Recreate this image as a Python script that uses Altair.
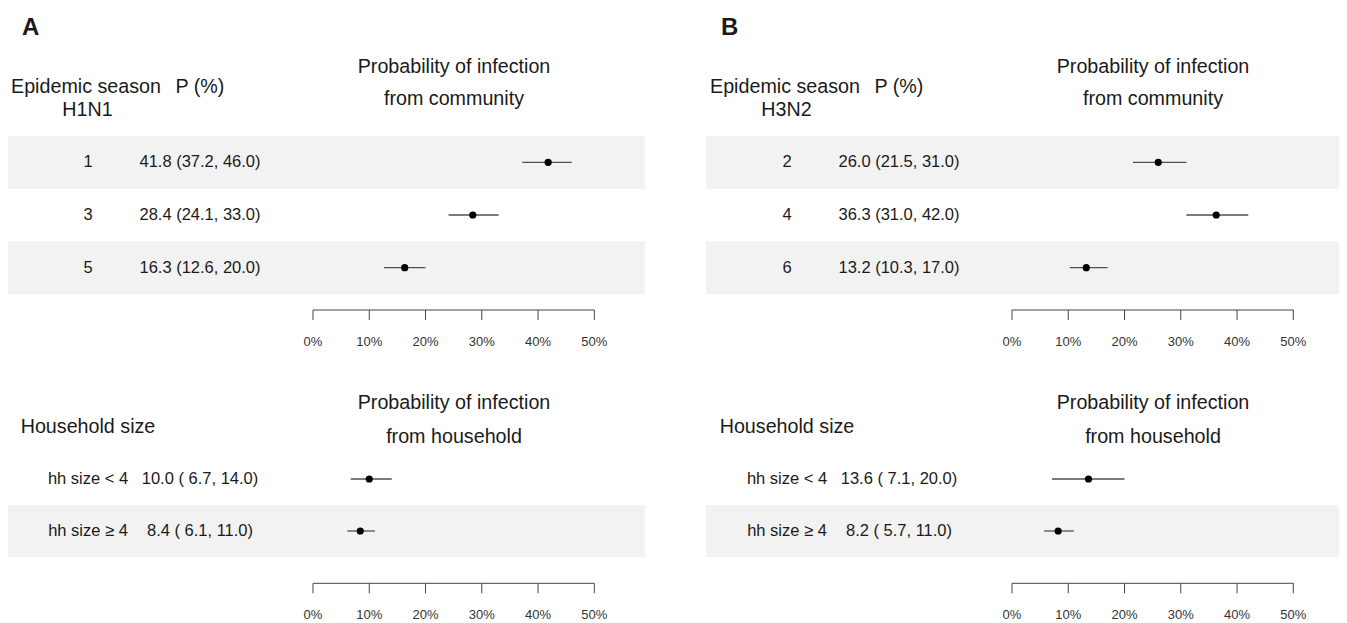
import altair as alt
import pandas as pd

FONT = "Liberation Sans"
TXT = "#1a1a1a"

# ---------------- data ----------------
a_seasons = ["1", "3", "5"]
a_comm_est = [41.8, 28.4, 16.3]
a_comm_lo = [37.2, 24.1, 12.6]
a_comm_hi = [46.0, 33.0, 20.0]
a_comm_txt = ["41.8 (37.2, 46.0)", "28.4 (24.1, 33.0)", "16.3 (12.6, 20.0)"]

b_seasons = ["2", "4", "6"]
b_comm_est = [26.0, 36.3, 13.2]
b_comm_lo = [21.5, 31.0, 10.3]
b_comm_hi = [31.0, 42.0, 17.0]
b_comm_txt = ["26.0 (21.5, 31.0)", "36.3 (31.0, 42.0)", "13.2 (10.3, 17.0)"]

hh_groups = ["hh size < 4", "hh size \u2265 4"]
a_hh_est = [10.0, 8.4]
a_hh_lo = [6.7, 6.1]
a_hh_hi = [14.0, 11.0]
a_hh_txt = ["10.0 ( 6.7, 14.0)", "8.4 ( 6.1, 11.0)"]

b_hh_est = [13.6, 8.2]
b_hh_lo = [7.1, 5.7]
b_hh_hi = [20.0, 11.0]
b_hh_txt = ["13.6 ( 7.1, 20.0)", "8.2 ( 5.7, 11.0)"]

tick_values = [0, 10, 20, 30, 40, 50]
tick_labels = ["0%", "10%", "20%", "30%", "40%", "50%"]

panel_letters = ["A", "B"]
strains = ["H1N1", "H3N2"]
hdr_season = "Epidemic season"
hdr_p = "P (%)"
hdr_hh = "Household size"
title_l1 = "Probability of infection"
title_comm = "from community"
title_hh = "from household"

W, H = 1331, 615
AXC = "#444444"
HFS = 19.7


def label(text, x, y, size=HFS, weight="normal", align="center", baseline="middle"):
    return alt.Chart(pd.DataFrame({"t": [text]})).mark_text(
        font=FONT, fontSize=size, fontWeight=weight, align=align,
        baseline=baseline, color=TXT
    ).encode(text="t:N", x=alt.value(x), y=alt.value(y))


def forest(labels, est, lo, hi, txt, dx, yr, axis_y, shade_odd):
    df = pd.DataFrame({"row": labels, "est": est, "lo": lo, "hi": hi, "txt": txt})
    base = alt.Chart(df)
    xs = alt.Scale(domain=[0, 50], range=[305 + dx, 586.3 + dx], zero=False, nice=False)
    ys = alt.Scale(domain=labels, range=yr, paddingInner=0, paddingOuter=0)
    Y = alt.Y("row:N", scale=ys, axis=None, sort=labels)
    parity = 1 if shade_odd else 0
    bands = base.transform_window(idx="row_number()").transform_filter(
        "datum.idx %% 2 == %d" % parity
    ).mark_rect(color="#f2f2f2").encode(
        x=alt.value(dx - 1), x2=alt.value(dx + 637), y=Y
    )
    ci = base.mark_rule(color="#505050", strokeWidth=1.3).encode(
        x=alt.X("lo:Q", scale=xs, axis=None), x2="hi:Q", y=Y
    )
    pts = base.mark_circle(size=52, color="black", opacity=1).encode(
        x=alt.X("est:Q", scale=xs, axis=None), y=Y
    )
    col1 = base.mark_text(font=FONT, fontSize=16.5, color=TXT, align="center",
                          baseline="middle").encode(text="row:N", x=alt.value(80 + dx), y=Y)
    col2 = base.mark_text(font=FONT, fontSize=16.5, color=TXT, align="center",
                          baseline="middle").encode(text="txt:N", x=alt.value(192 + dx), y=Y)

    # axis drawn from the tick arrays through the same x scale
    tdf = pd.DataFrame({"v": tick_values, "lab": tick_labels})
    ends = pd.DataFrame({"a": [min(tick_values)], "b": [max(tick_values)]})
    dom = alt.Chart(ends).mark_rule(color=AXC, strokeWidth=1).encode(
        x=alt.X("a:Q", scale=xs, axis=None), x2="b:Q", y=alt.value(axis_y)
    )
    tks = alt.Chart(tdf).mark_rule(color=AXC, strokeWidth=1).encode(
        x=alt.X("v:Q", scale=xs, axis=None), y=alt.value(axis_y), y2=alt.value(axis_y + 10)
    )
    tlab = alt.Chart(tdf).mark_text(font=FONT, fontSize=13, color="#333333",
                                    align="center", baseline="middle").encode(
        x=alt.X("v:Q", scale=xs, axis=None), y=alt.value(axis_y + 32), text="lab:N"
    )
    return alt.layer(bands, ci, pts, col1, col2, dom, tks, tlab)


layers = []
panels = [
    (0, a_seasons, a_comm_est, a_comm_lo, a_comm_hi, a_comm_txt,
     a_hh_est, a_hh_lo, a_hh_hi, a_hh_txt),
    (699, b_seasons, b_comm_est, b_comm_lo, b_comm_hi, b_comm_txt,
     b_hh_est, b_hh_lo, b_hh_hi, b_hh_txt),
]
for i, (dx, seas, ce, cl, ch, ct, he, hl, hh, ht) in enumerate(panels):
    layers.append(forest(seas, ce, cl, ch, ct, dx, [128, 286], 302, True))
    layers.append(forest(hh_groups, he, hl, hh, ht, dx, [445, 549], 575.3, False))
    layers += [
        label(panel_letters[i], 14 + dx, 27, size=24, weight="bold", align="left",
              baseline="alphabetic"),
        label(hdr_season, 78 + dx, 79),
        label(strains[i], 79.5 + dx, 102),
        label(hdr_p, 192 + dx, 79),
        label(title_l1, 446 + dx, 59),
        label(title_comm, 446 + dx, 91),
        label(hdr_hh, 80 + dx, 419),
        label(title_l1, 446 + dx, 395),
        label(title_hh, 446 + dx, 429),
    ]

chart = alt.layer(*layers).resolve_scale(
    x="independent", y="independent"
).properties(
    width=W, height=H, padding=0,
    autosize=alt.AutoSizeParams(type="none"),
    background="white",
).configure_view(stroke=None)

chart.save("out.html", embed_options={"renderer": "svg", "actions": False})
